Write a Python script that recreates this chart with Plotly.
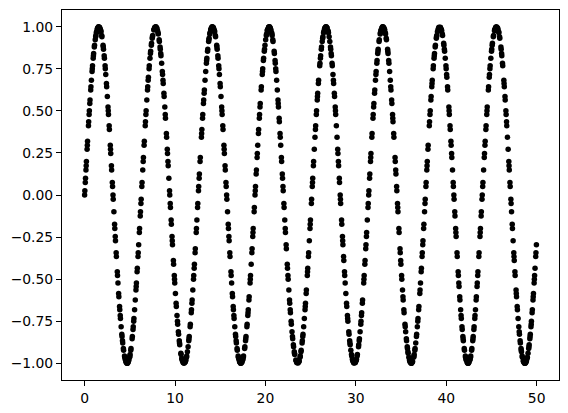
import plotly.graph_objects as go

x_values = [
    0.00, 0.10, 0.15, 0.20, 0.30, 0.45, 0.50, 0.60, 0.70, 0.75, 0.85, 0.95, 1.00, 1.10, 1.25, 1.30, 1.40, 1.45, 1.55,
    1.64, 1.74, 1.79, 1.89, 2.04, 2.09, 2.19, 2.29, 2.34, 2.44, 2.59, 2.64, 2.74, 2.84, 2.89, 2.99, 3.09, 3.14, 3.24, 3.34, 3.39, 3.49, 3.64, 3.69, 3.79, 3.89, 3.94, 4.04, 4.14, 4.19, 4.29, 4.44, 4.49, 4.59, 4.69,
    4.73, 4.83, 4.98, 5.03, 5.13, 5.28, 5.38, 5.43, 5.53, 5.68, 5.73, 5.83, 5.93, 5.98, 6.08, 6.18, 6.23, 6.33, 6.43, 6.48, 6.58, 6.73, 6.78, 6.88, 6.98, 7.03, 7.13, 7.23, 7.28, 7.38, 7.48, 7.53, 7.68, 7.78,
    7.87, 7.97, 8.07, 8.12, 8.27, 8.37, 8.42, 8.52, 8.62, 8.67, 8.77, 8.87, 8.92, 9.07, 9.17, 9.22, 9.32, 9.42, 9.47, 9.57, 9.67, 9.72, 9.82, 9.92, 9.97, 10.12, 10.22, 10.27, 10.37, 10.47, 10.52, 10.67, 10.77, 10.82, 10.92,
    11.12, 11.17, 11.27, 11.37, 11.52, 11.57, 11.67, 11.82, 11.87, 11.97, 12.07, 12.12, 12.22, 12.37, 12.42, 12.52, 12.62, 12.67, 12.77, 12.92, 12.97, 13.07, 13.17, 13.22, 13.32, 13.47, 13.52, 13.62, 13.72, 13.77, 13.87, 13.97, 14.02, 14.12,
    14.21, 14.31, 14.36, 14.46, 14.61, 14.66, 14.76, 14.86, 14.91, 15.01, 15.16, 15.21, 15.31, 15.41, 15.46, 15.56, 15.66, 15.71, 15.81, 15.91, 15.96, 16.06, 16.21, 16.26, 16.36, 16.46, 16.51, 16.61, 16.71, 16.76, 16.86, 17.01, 17.06, 17.16, 17.26,
    17.30, 17.40, 17.50, 17.55, 17.70, 17.80, 17.85, 17.95, 18.05, 18.10, 18.20, 18.30, 18.35, 18.50, 18.60, 18.65, 18.75, 18.85, 18.90, 19.00, 19.10, 19.15, 19.25, 19.35, 19.40, 19.55, 19.65, 19.70, 19.80, 19.90, 19.95, 20.10, 20.20, 20.25, 20.35,
    20.44, 20.54, 20.69, 20.74, 20.84, 20.99, 21.09, 21.14, 21.24, 21.39, 21.44, 21.54, 21.64, 21.69, 21.79, 21.89, 21.94, 22.04, 22.14, 22.19, 22.29, 22.44, 22.49, 22.59, 22.69, 22.74, 22.84, 22.94, 22.99, 23.09, 23.19, 23.24, 23.39, 23.49,
    23.68, 23.73, 23.83, 23.93, 24.08, 24.13, 24.23, 24.38, 24.43, 24.53, 24.63, 24.68, 24.78, 24.93, 24.98, 25.08, 25.18, 25.23, 25.33, 25.48, 25.53, 25.63, 25.73, 25.78, 25.88, 26.03, 26.08, 26.18, 26.28, 26.33, 26.43, 26.53, 26.58, 26.68,
    26.72, 26.82, 26.92, 26.97, 27.12, 27.22, 27.27, 27.37, 27.47, 27.52, 27.62, 27.72, 27.77, 27.92, 28.02, 28.07, 28.17, 28.27, 28.32, 28.42, 28.52, 28.57, 28.67, 28.77, 28.82, 28.97, 29.07, 29.12, 29.22, 29.32, 29.37, 29.52, 29.62, 29.67, 29.77,
    29.92, 30.02, 30.07, 30.17, 30.32, 30.37, 30.47, 30.57, 30.62, 30.72, 30.87, 30.92, 31.02, 31.12, 31.17, 31.27, 31.37, 31.42, 31.52, 31.62, 31.67, 31.77, 31.92, 31.97, 32.07, 32.17, 32.22, 32.32, 32.42, 32.47, 32.57, 32.72, 32.77, 32.87, 32.97,
    33.11, 33.16, 33.26, 33.36, 33.51, 33.56, 33.66, 33.81, 33.86, 33.96, 34.06, 34.11, 34.21, 34.36, 34.41, 34.51, 34.61, 34.66, 34.76, 34.91, 34.96, 35.06, 35.16, 35.21, 35.31, 35.46, 35.51, 35.61, 35.71, 35.76, 35.86, 35.96, 36.01, 36.11,
    36.15, 36.25, 36.40, 36.45, 36.55, 36.70, 36.80, 36.85, 36.95, 37.10, 37.15, 37.25, 37.35, 37.40, 37.50, 37.60, 37.65, 37.75, 37.85, 37.90, 38.00, 38.15, 38.20, 38.30, 38.40, 38.45, 38.55, 38.65, 38.70, 38.80, 38.90, 38.95, 39.10, 39.20,
    39.34, 39.44, 39.49, 39.59, 39.74, 39.79, 39.89, 39.99, 40.04, 40.14, 40.29, 40.34, 40.44, 40.54, 40.59, 40.69, 40.79, 40.84, 40.94, 41.04, 41.09, 41.19, 41.34, 41.39, 41.49, 41.59, 41.64, 41.74, 41.84, 41.89, 41.99, 42.14, 42.19, 42.29, 42.39,
    42.43, 42.53, 42.63, 42.68, 42.83, 42.93, 42.98, 43.08, 43.18, 43.23, 43.33, 43.43, 43.48, 43.63, 43.73, 43.78, 43.88, 43.98, 44.03, 44.13, 44.23, 44.28, 44.38, 44.48, 44.53, 44.68, 44.78, 44.83, 44.93, 45.03, 45.08, 45.23, 45.33, 45.38, 45.48,
    45.67, 45.72, 45.82, 45.92, 46.07, 46.12, 46.22, 46.37, 46.42, 46.52, 46.62, 46.67, 46.77, 46.92, 46.97, 47.07, 47.17, 47.22, 47.32, 47.47, 47.52, 47.62, 47.72, 47.77, 47.87, 48.02, 48.07, 48.17, 48.27, 48.32, 48.42, 48.52, 48.57, 48.67,
    48.72, 48.82, 48.87, 48.97, 49.12, 49.17, 49.27, 49.37, 49.42, 49.52, 49.62, 49.72, 49.77, 49.82, 49.92, 49.97,
]

y_values = [
    0.000, 0.100, 0.149, 0.199, 0.296, 0.435, 0.479, 0.565, 0.644, 0.682, 0.751, 0.813, 0.841, 0.891, 0.949, 0.964, 0.985, 0.993, 1.000,
    0.997, 0.985, 0.976, 0.949, 0.891, 0.867, 0.813, 0.751, 0.717, 0.644, 0.523, 0.479, 0.389, 0.296, 0.247, 0.149, 0.050, 0.000, -0.100, -0.199, -0.247, -0.343, -0.479, -0.523, -0.605, -0.682, -0.717, -0.783, -0.841, -0.867, -0.913, -0.964, -0.976, -0.993, -1.000,
    -1.000, -0.993, -0.964, -0.949, -0.913, -0.841, -0.783, -0.751, -0.682, -0.565, -0.523, -0.435, -0.343, -0.296, -0.199, -0.100, -0.050, 0.050, 0.149, 0.199, 0.296, 0.435, 0.479, 0.565, 0.644, 0.682, 0.751, 0.813, 0.841, 0.891, 0.932, 0.949, 0.985, 0.997,
    1.000, 0.993, 0.976, 0.964, 0.913, 0.867, 0.841, 0.783, 0.717, 0.682, 0.605, 0.523, 0.479, 0.343, 0.247, 0.199, 0.100, 0.000, -0.050, -0.149, -0.247, -0.296, -0.389, -0.479, -0.523, -0.644, -0.717, -0.751, -0.813, -0.867, -0.891, -0.949, -0.976, -0.985, -0.997,
    -0.993, -0.985, -0.964, -0.932, -0.867, -0.841, -0.783, -0.682, -0.644, -0.565, -0.479, -0.435, -0.343, -0.199, -0.149, -0.050, 0.050, 0.100, 0.199, 0.343, 0.389, 0.479, 0.565, 0.605, 0.682, 0.783, 0.813, 0.867, 0.913, 0.932, 0.964, 0.985, 0.993, 1.000,
    0.997, 0.985, 0.976, 0.949, 0.891, 0.867, 0.813, 0.751, 0.717, 0.644, 0.523, 0.479, 0.389, 0.296, 0.247, 0.149, 0.050, 0.000, -0.100, -0.199, -0.247, -0.343, -0.479, -0.523, -0.605, -0.682, -0.717, -0.783, -0.841, -0.867, -0.913, -0.964, -0.976, -0.993, -1.000,
    -1.000, -0.993, -0.976, -0.964, -0.913, -0.867, -0.841, -0.783, -0.717, -0.682, -0.605, -0.523, -0.479, -0.343, -0.247, -0.199, -0.100, 0.000, 0.050, 0.149, 0.247, 0.296, 0.389, 0.479, 0.523, 0.644, 0.717, 0.751, 0.813, 0.867, 0.891, 0.949, 0.976, 0.985, 0.997,
    1.000, 0.993, 0.964, 0.949, 0.913, 0.841, 0.783, 0.751, 0.682, 0.565, 0.523, 0.435, 0.343, 0.296, 0.199, 0.100, 0.050, -0.050, -0.149, -0.199, -0.296, -0.435, -0.479, -0.565, -0.644, -0.682, -0.751, -0.813, -0.841, -0.891, -0.932, -0.949, -0.985, -0.997,
    -0.993, -0.985, -0.964, -0.932, -0.867, -0.841, -0.783, -0.682, -0.644, -0.565, -0.479, -0.435, -0.343, -0.199, -0.149, -0.050, 0.050, 0.100, 0.199, 0.343, 0.389, 0.479, 0.565, 0.605, 0.682, 0.783, 0.813, 0.867, 0.913, 0.932, 0.964, 0.985, 0.993, 1.000,
    1.000, 0.993, 0.976, 0.964, 0.913, 0.867, 0.841, 0.783, 0.717, 0.682, 0.605, 0.523, 0.479, 0.343, 0.247, 0.199, 0.100, 0.000, -0.050, -0.149, -0.247, -0.296, -0.389, -0.479, -0.523, -0.644, -0.717, -0.751, -0.813, -0.867, -0.891, -0.949, -0.976, -0.985, -0.997,
    -0.997, -0.985, -0.976, -0.949, -0.891, -0.867, -0.813, -0.751, -0.717, -0.644, -0.523, -0.479, -0.389, -0.296, -0.247, -0.149, -0.050, 0.000, 0.100, 0.199, 0.247, 0.343, 0.479, 0.523, 0.605, 0.682, 0.717, 0.783, 0.841, 0.867, 0.913, 0.964, 0.976, 0.993, 1.000,
    0.993, 0.985, 0.964, 0.932, 0.867, 0.841, 0.783, 0.682, 0.644, 0.565, 0.479, 0.435, 0.343, 0.199, 0.149, 0.050, -0.050, -0.100, -0.199, -0.343, -0.389, -0.479, -0.565, -0.605, -0.682, -0.783, -0.813, -0.867, -0.913, -0.932, -0.964, -0.985, -0.993, -1.000,
    -1.000, -0.993, -0.964, -0.949, -0.913, -0.841, -0.783, -0.751, -0.682, -0.565, -0.523, -0.435, -0.343, -0.296, -0.199, -0.100, -0.050, 0.050, 0.149, 0.199, 0.296, 0.435, 0.479, 0.565, 0.644, 0.682, 0.751, 0.813, 0.841, 0.891, 0.932, 0.949, 0.985, 0.997,
    0.997, 0.985, 0.976, 0.949, 0.891, 0.867, 0.813, 0.751, 0.717, 0.644, 0.523, 0.479, 0.389, 0.296, 0.247, 0.149, 0.050, 0.000, -0.100, -0.199, -0.247, -0.343, -0.479, -0.523, -0.605, -0.682, -0.717, -0.783, -0.841, -0.867, -0.913, -0.964, -0.976, -0.993, -1.000,
    -1.000, -0.993, -0.976, -0.964, -0.913, -0.867, -0.841, -0.783, -0.717, -0.682, -0.605, -0.523, -0.479, -0.343, -0.247, -0.199, -0.100, 0.000, 0.050, 0.149, 0.247, 0.296, 0.389, 0.479, 0.523, 0.644, 0.717, 0.751, 0.813, 0.867, 0.891, 0.949, 0.976, 0.985, 0.997,
    0.993, 0.985, 0.964, 0.932, 0.867, 0.841, 0.783, 0.682, 0.644, 0.565, 0.479, 0.435, 0.343, 0.199, 0.149, 0.050, -0.050, -0.100, -0.199, -0.343, -0.389, -0.479, -0.565, -0.605, -0.682, -0.783, -0.813, -0.867, -0.913, -0.932, -0.964, -0.985, -0.993, -1.000,
    -1.000, -0.993, -0.985, -0.964, -0.913, -0.891, -0.841, -0.783, -0.751, -0.682, -0.605, -0.523, -0.479, -0.435, -0.343, -0.296,
]

# Further sampled points lying between the ones above
x_extra = [
    0.025, 0.075, 0.175, 0.275, 0.325, 0.425, 0.525, 0.575, 0.675, 0.825, 0.875, 0.975, 1.075, 1.175, 1.225, 1.325, 1.425, 1.525,
    1.665, 1.815, 1.915, 2.065, 2.165, 2.265, 2.415, 2.515, 2.615, 2.715, 2.865, 2.965, 3.065, 3.165, 3.315, 3.415, 3.515, 3.615, 3.765, 3.865, 3.965, 4.115, 4.215, 4.315, 4.415, 4.565, 4.665,
    4.755, 4.905, 5.005, 5.105, 5.255, 5.355, 5.455, 5.605, 5.705, 5.805, 5.905, 6.055, 6.155, 6.255, 6.355, 6.505, 6.605, 6.705, 6.805, 6.955, 7.055, 7.155, 7.305, 7.405, 7.505, 7.655, 7.755,
    7.895, 7.995, 8.145, 8.245, 8.345, 8.445, 8.595, 8.695, 8.795, 8.945, 9.045, 9.145, 9.245, 9.395, 9.495, 9.595, 9.695, 9.845, 9.945, 10.045, 10.145, 10.295, 10.395, 10.495, 10.645, 10.745, 10.895,
    11.000, 11.095, 11.195, 11.295, 11.445, 11.545, 11.695, 11.795, 11.895, 12.045, 12.145, 12.245, 12.345, 12.495, 12.595, 12.695, 12.795, 12.945, 13.045, 13.145, 13.245, 13.395, 13.495, 13.595, 13.745, 13.845, 13.945, 14.095,
    14.235, 14.385, 14.485, 14.635, 14.735, 14.835, 14.985, 15.085, 15.185, 15.285, 15.435, 15.535, 15.635, 15.735, 15.885, 15.985, 16.085, 16.185, 16.335, 16.435, 16.535, 16.685, 16.785, 16.885, 16.985, 17.135, 17.235,
    17.375, 17.475, 17.575, 17.725, 17.825, 17.975, 18.075, 18.175, 18.325, 18.425, 18.525, 18.625, 18.775, 18.875, 18.975, 19.075, 19.225, 19.325, 19.425, 19.525, 19.675, 19.775, 19.875, 20.025, 20.125, 20.225, 20.375,
    20.465, 20.615, 20.715, 20.815, 20.965, 21.065, 21.165, 21.315, 21.415, 21.515, 21.615, 21.765, 21.865, 21.965, 22.065, 22.215, 22.315, 22.415, 22.515, 22.665, 22.765, 22.865, 23.015, 23.115, 23.215, 23.365, 23.465,
    23.605, 23.705, 23.855, 23.955, 24.055, 24.155, 24.305, 24.405, 24.505, 24.655, 24.755, 24.855, 24.955, 25.105, 25.205, 25.305, 25.405, 25.555, 25.655, 25.755, 25.855, 26.005, 26.105, 26.205, 26.355, 26.455, 26.605,
    26.795, 26.945, 27.045, 27.195, 27.295, 27.395, 27.545, 27.645, 27.745, 27.845, 27.995, 28.095, 28.195, 28.295, 28.445, 28.545, 28.645, 28.745, 28.895, 28.995, 29.095, 29.245, 29.345, 29.445, 29.545, 29.695, 29.795,
    29.945, 30.045, 30.145, 30.295, 30.395, 30.545, 30.645, 30.745, 30.895, 30.995, 31.095, 31.195, 31.345, 31.445, 31.545, 31.645, 31.795, 31.895, 31.995, 32.095, 32.245, 32.345, 32.445, 32.595, 32.695, 32.795, 32.945,
    33.035, 33.185, 33.285, 33.385, 33.535, 33.635, 33.735, 33.885, 33.985, 34.085, 34.185, 34.335, 34.435, 34.535, 34.635, 34.785, 34.885, 34.985, 35.085, 35.235, 35.335, 35.435, 35.585, 35.685, 35.785, 35.935, 36.035,
    36.175, 36.275, 36.425, 36.525, 36.625, 36.725, 36.875, 36.975, 37.075, 37.225, 37.325, 37.425, 37.525, 37.675, 37.775, 37.875, 37.975, 38.125, 38.225, 38.325, 38.425, 38.575, 38.675, 38.775, 38.925, 39.025, 39.175,
    39.365, 39.465, 39.565, 39.715, 39.815, 39.965, 40.065, 40.165, 40.315, 40.415, 40.515, 40.615, 40.765, 40.865, 40.965, 41.065, 41.215, 41.315, 41.415, 41.515, 41.665, 41.765, 41.865, 42.015, 42.115, 42.215, 42.365,
    42.455, 42.605, 42.705, 42.805, 42.955, 43.055, 43.155, 43.305, 43.405, 43.505, 43.605, 43.755, 43.855, 43.955, 44.055, 44.205, 44.305, 44.405, 44.505, 44.655, 44.755, 44.855, 45.005, 45.105, 45.205, 45.355, 45.455,
    45.550, 45.645, 45.795, 45.895, 46.045, 46.145, 46.245, 46.395, 46.495, 46.595, 46.695, 46.845, 46.945, 47.045, 47.145, 47.295, 47.395, 47.495, 47.595, 47.745, 47.845, 47.945, 48.095, 48.195, 48.295, 48.395, 48.545, 48.645,
    48.745, 48.795, 48.945, 49.045, 49.145, 49.245, 49.295, 49.395, 49.495, 49.595, 49.645, 49.745, 49.895,
]

y_extra = [
    0.025, 0.075, 0.174, 0.272, 0.319, 0.412, 0.501, 0.544, 0.625, 0.734, 0.768, 0.828, 0.880, 0.923, 0.941, 0.970, 0.990, 0.999,
    0.995, 0.970, 0.941, 0.880, 0.828, 0.768, 0.663, 0.585, 0.501, 0.412, 0.272, 0.174, 0.075, -0.025, -0.174, -0.272, -0.366, -0.457, -0.585, -0.663, -0.734, -0.828, -0.880, -0.923, -0.957, -0.990, -0.999,
    -0.999, -0.981, -0.957, -0.923, -0.855, -0.799, -0.734, -0.625, -0.544, -0.457, -0.366, -0.223, -0.125, -0.025, 0.075, 0.223, 0.319, 0.412, 0.501, 0.625, 0.700, 0.768, 0.855, 0.902, 0.941, 0.981, 0.995,
    0.999, 0.990, 0.957, 0.923, 0.880, 0.828, 0.734, 0.663, 0.585, 0.457, 0.366, 0.272, 0.174, 0.025, -0.075, -0.174, -0.272, -0.412, -0.501, -0.585, -0.663, -0.768, -0.828, -0.880, -0.941, -0.970, -0.995,
    -1.000, -0.995, -0.981, -0.957, -0.902, -0.855, -0.768, -0.700, -0.625, -0.501, -0.412, -0.319, -0.223, -0.075, 0.025, 0.125, 0.223, 0.366, 0.457, 0.544, 0.625, 0.734, 0.799, 0.855, 0.923, 0.957, 0.981, 0.999,
    0.995, 0.970, 0.941, 0.880, 0.828, 0.768, 0.663, 0.585, 0.501, 0.412, 0.272, 0.174, 0.075, -0.025, -0.174, -0.272, -0.366, -0.457, -0.585, -0.663, -0.734, -0.828, -0.880, -0.923, -0.957, -0.990, -0.999,
    -0.995, -0.981, -0.957, -0.902, -0.855, -0.768, -0.700, -0.625, -0.501, -0.412, -0.319, -0.223, -0.075, 0.025, 0.125, 0.223, 0.366, 0.457, 0.544, 0.625, 0.734, 0.799, 0.855, 0.923, 0.957, 0.981, 0.999,
    0.999, 0.981, 0.957, 0.923, 0.855, 0.799, 0.734, 0.625, 0.544, 0.457, 0.366, 0.223, 0.125, 0.025, -0.075, -0.223, -0.319, -0.412, -0.501, -0.625, -0.700, -0.768, -0.855, -0.902, -0.941, -0.981, -0.995,
    -0.999, -0.990, -0.957, -0.923, -0.880, -0.828, -0.734, -0.663, -0.585, -0.457, -0.366, -0.272, -0.174, -0.025, 0.075, 0.174, 0.272, 0.412, 0.501, 0.585, 0.663, 0.768, 0.828, 0.880, 0.941, 0.970, 0.995,
    0.995, 0.970, 0.941, 0.880, 0.828, 0.768, 0.663, 0.585, 0.501, 0.412, 0.272, 0.174, 0.075, -0.025, -0.174, -0.272, -0.366, -0.457, -0.585, -0.663, -0.734, -0.828, -0.880, -0.923, -0.957, -0.990, -0.999,
    -0.995, -0.981, -0.957, -0.902, -0.855, -0.768, -0.700, -0.625, -0.501, -0.412, -0.319, -0.223, -0.075, 0.025, 0.125, 0.223, 0.366, 0.457, 0.544, 0.625, 0.734, 0.799, 0.855, 0.923, 0.957, 0.981, 0.999,
    0.999, 0.981, 0.957, 0.923, 0.855, 0.799, 0.734, 0.625, 0.544, 0.457, 0.366, 0.223, 0.125, 0.025, -0.075, -0.223, -0.319, -0.412, -0.501, -0.625, -0.700, -0.768, -0.855, -0.902, -0.941, -0.981, -0.995,
    -0.999, -0.990, -0.957, -0.923, -0.880, -0.828, -0.734, -0.663, -0.585, -0.457, -0.366, -0.272, -0.174, -0.025, 0.075, 0.174, 0.272, 0.412, 0.501, 0.585, 0.663, 0.768, 0.828, 0.880, 0.941, 0.970, 0.995,
    0.995, 0.981, 0.957, 0.902, 0.855, 0.768, 0.700, 0.625, 0.501, 0.412, 0.319, 0.223, 0.075, -0.025, -0.125, -0.223, -0.366, -0.457, -0.544, -0.625, -0.734, -0.799, -0.855, -0.923, -0.957, -0.981, -0.999,
    -0.999, -0.981, -0.957, -0.923, -0.855, -0.799, -0.734, -0.625, -0.544, -0.457, -0.366, -0.223, -0.125, -0.025, 0.075, 0.223, 0.319, 0.412, 0.501, 0.625, 0.700, 0.768, 0.855, 0.902, 0.941, 0.981, 0.995,
    1.000, 0.995, 0.970, 0.941, 0.880, 0.828, 0.768, 0.663, 0.585, 0.501, 0.412, 0.272, 0.174, 0.075, -0.025, -0.174, -0.272, -0.366, -0.457, -0.585, -0.663, -0.734, -0.828, -0.880, -0.923, -0.957, -0.990, -0.999,
    -0.999, -0.995, -0.970, -0.941, -0.902, -0.855, -0.828, -0.768, -0.700, -0.625, -0.585, -0.501, -0.366,
]

x_tick_values = [0, 10, 20, 30, 40, 50]
x_tick_labels = ["0", "10", "20", "30", "40", "50"]
y_tick_values = [-1.00, -0.75, -0.50, -0.25, 0.00, 0.25, 0.50, 0.75, 1.00]
y_tick_labels = ["\u22121.00", "\u22120.75", "\u22120.50", "\u22120.25", "0.00", "0.25", "0.50", "0.75", "1.00"]

fig = go.Figure(
    go.Scatter(
        x=x_values + x_extra,
        y=y_values + y_extra,
        mode="markers",
        marker=dict(color="black", size=5.5, line=dict(width=0)),
        hoverinfo="skip",
    )
)

axis_common = dict(
    showgrid=False,
    zeroline=False,
    showline=True,
    linecolor="black",
    linewidth=1,
    mirror=True,
    ticks="outside",
    ticklen=5,
    tickwidth=1,
    tickcolor="black",
    automargin=False,
    tickfont=dict(family="DejaVu Sans", size=13.9, color="black"),
)

fig.update_xaxes(
    range=[-2.5, 52.47],
    tickmode="array",
    tickvals=x_tick_values,
    ticktext=x_tick_labels,
    **axis_common,
)
fig.update_yaxes(
    range=[-1.1, 1.1],
    tickmode="array",
    tickvals=y_tick_values,
    ticktext=y_tick_labels,
    **axis_common,
)

# The page body adds an 8px margin, so the figure is sized 8px smaller
fig.update_layout(
    width=560,
    height=405,
    margin=dict(l=54, r=9, t=2, b=33, autoexpand=False),
    paper_bgcolor="white",
    plot_bgcolor="white",
    showlegend=False,
)

fig.write_html("out.html")
